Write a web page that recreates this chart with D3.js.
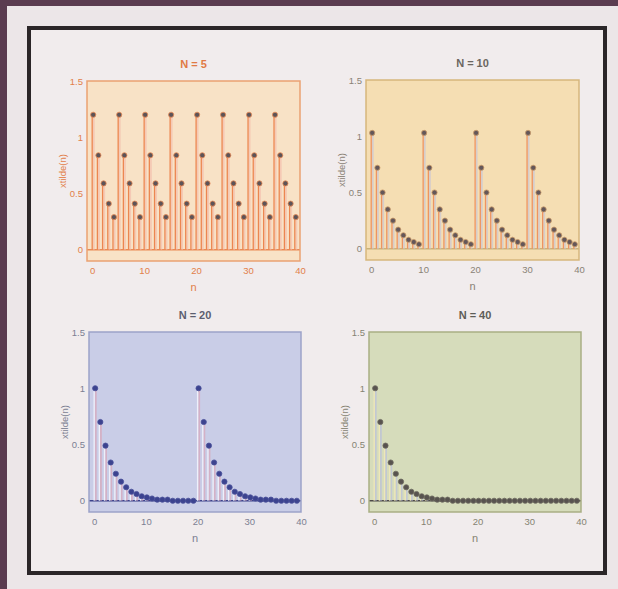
<!DOCTYPE html>
<html>
<head>
<meta charset="utf-8">
<script src="https://cdn.jsdelivr.net/npm/d3@7"></script>
<style>
  body { margin: 0; background: #5b3c50; }
  svg { display: block; }
  text { font-family: "Liberation Sans", Arial, sans-serif; }
</style>
</head>
<body>
<div id="graph"></div>
<script>

// valores, n = 0..39
var nValues = d3.range(0, 40);

var xN5 = [1.20, 0.84, 0.59, 0.41, 0.29, 1.20, 0.84, 0.59, 0.41, 0.29,
           1.20, 0.84, 0.59, 0.41, 0.29, 1.20, 0.84, 0.59, 0.41, 0.29,
           1.20, 0.84, 0.59, 0.41, 0.29, 1.20, 0.84, 0.59, 0.41, 0.29,
           1.20, 0.84, 0.59, 0.41, 0.29, 1.20, 0.84, 0.59, 0.41, 0.29];

var xN10 = [1.03, 0.72, 0.50, 0.35, 0.25, 0.17, 0.12, 0.08, 0.06, 0.04,
            1.03, 0.72, 0.50, 0.35, 0.25, 0.17, 0.12, 0.08, 0.06, 0.04,
            1.03, 0.72, 0.50, 0.35, 0.25, 0.17, 0.12, 0.08, 0.06, 0.04,
            1.03, 0.72, 0.50, 0.35, 0.25, 0.17, 0.12, 0.08, 0.06, 0.04];

var xN20 = [1.00, 0.70, 0.49, 0.34, 0.24, 0.17, 0.12, 0.08, 0.06, 0.04,
            0.03, 0.02, 0.01, 0.01, 0.01, 0.00, 0.00, 0.00, 0.00, 0.00,
            1.00, 0.70, 0.49, 0.34, 0.24, 0.17, 0.12, 0.08, 0.06, 0.04,
            0.03, 0.02, 0.01, 0.01, 0.01, 0.00, 0.00, 0.00, 0.00, 0.00];

var xN40 = [1.00, 0.70, 0.49, 0.34, 0.24, 0.17, 0.12, 0.08, 0.06, 0.04,
            0.03, 0.02, 0.01, 0.01, 0.01, 0.00, 0.00, 0.00, 0.00, 0.00,
            0.00, 0.00, 0.00, 0.00, 0.00, 0.00, 0.00, 0.00, 0.00, 0.00,
            0.00, 0.00, 0.00, 0.00, 0.00, 0.00, 0.00, 0.00, 0.00, 0.00];

var titles = ["N = 5", "N = 10", "N = 20", "N = 40"];
var xTicks = [0, 10, 20, 30, 40];
var yTicks = [0, 0.5, 1, 1.5];

var svgWidth = 618;
var svgHeight = 589;

var svg = d3.select("#graph")
  .append("svg")
  .attr("width", svgWidth)
  .attr("height", svgHeight);

// papel (la franja morada queda arriba y a la izquierda)
svg.append("rect")
  .attr("x", 7).attr("y", 6)
  .attr("width", svgWidth - 7).attr("height", svgHeight - 6)
  .attr("fill", "#ece6e8");

// marco negro
svg.append("rect")
  .attr("x", 29).attr("y", 28)
  .attr("width", 576).attr("height", 545)
  .attr("fill", "#f1eced")
  .attr("stroke", "#2b2628")
  .attr("stroke-width", 4);

// GRAFICA DE TALLOS (una por panel)
function panel(datos, titulo, box, estilo) {
  var x = d3.scaleLinear().domain([-1, 40]).range([box.left, box.right]);
  var y = d3.scaleLinear().domain([-0.1, 1.5]).range([box.bottom, box.top]);

  var g = svg.append("g");

  g.append("rect")
    .attr("x", box.left).attr("y", box.top)
    .attr("width", box.right - box.left)
    .attr("height", box.bottom - box.top)
    .attr("fill", estilo.fondo);

  // linea del cero
  g.append("line")
    .attr("x1", box.left).attr("x2", box.right)
    .attr("y1", y(0)).attr("y2", y(0))
    .attr("stroke", estilo.cero)
    .attr("stroke-width", 1.5);

  // tallos: sombra clara + linea
  g.selectAll(".sombra")
    .data(nValues)
    .enter()
    .append("line")
    .attr("x1", d => x(d) + 1.6).attr("x2", d => x(d) + 1.6)
    .attr("y1", y(0))
    .attr("y2", d => y(datos[d]))
    .attr("stroke", estilo.sombra)
    .attr("stroke-opacity", 0.7)
    .attr("stroke-width", 1.8);

  g.selectAll(".tallo")
    .data(nValues)
    .enter()
    .append("line")
    .attr("x1", d => x(d)).attr("x2", d => x(d))
    .attr("y1", y(0))
    .attr("y2", d => y(datos[d]))
    .attr("stroke", estilo.tallo)
    .attr("stroke-width", 1.3);

  g.selectAll(".marca")
    .data(nValues)
    .enter()
    .append("circle")
    .attr("cx", d => x(d) + 1)
    .attr("cy", d => y(datos[d]))
    .attr("r", 2.6)
    .attr("fill", estilo.marca)
    .attr("stroke", estilo.borde)
    .attr("stroke-width", 0.8);

  g.append("rect")
    .attr("x", box.left).attr("y", box.top)
    .attr("width", box.right - box.left)
    .attr("height", box.bottom - box.top)
    .attr("fill", "none")
    .attr("stroke", estilo.caja)
    .attr("stroke-width", 1.5);

  // ejes
  var ejeX = g.append("g")
    .attr("transform", `translate(0, ${box.bottom})`)
    .call(d3.axisBottom(x).tickValues(xTicks).tickSize(0).tickPadding(6));
  var ejeY = g.append("g")
    .attr("transform", `translate(${box.left}, 0)`)
    .call(d3.axisLeft(y).tickValues(yTicks).tickSize(0).tickPadding(4)
      .tickFormat(d3.format("")));

  [ejeX, ejeY].forEach(function (e) {
    e.select(".domain").remove();
    e.selectAll("text")
      .attr("fill", estilo.texto)
      .style("font-size", "9.5px");
  });

  g.append("text")
    .attr("x", (box.left + box.right) / 2)
    .attr("y", box.top - 13)
    .attr("text-anchor", "middle")
    .attr("fill", estilo.titulo)
    .style("font-size", "11px")
    .style("font-weight", "bold")
    .text(titulo);

  g.append("text")
    .attr("x", (box.left + box.right) / 2)
    .attr("y", box.bottom + 30)
    .attr("text-anchor", "middle")
    .attr("fill", estilo.texto)
    .style("font-size", "11px")
    .text("n");

  g.append("text")
    .attr("transform", `translate(${box.left - 21}, ${(box.top + box.bottom) / 2}) rotate(-90)`)
    .attr("text-anchor", "middle")
    .attr("fill", estilo.texto)
    .style("font-size", "9.5px")
    .text("xtilde(n)");
}

panel(xN5, titles[0], { left: 87, right: 300, top: 81, bottom: 261 }, {
  fondo: "#f8e2c6", cero: "#e98a55", sombra: "#f3bfae", tallo: "#ec8650",
  marca: "#5d5458", borde: "#e98a55", caja: "#eaa172", texto: "#e2804a", titulo: "#e07a44"
});

panel(xN10, titles[1], { left: 366, right: 579, top: 80, bottom: 260 }, {
  fondo: "#f5deb3", cero: "#c9b27a", sombra: "#c9c6d6", tallo: "#ee9460",
  marca: "#645759", borde: "#c99a6a", caja: "#d6b67c", texto: "#8a8276", titulo: "#6b6660"
});

panel(xN20, titles[2], { left: 89, right: 301, top: 332, bottom: 512 }, {
  fondo: "#c9cde7", cero: "#3c438c", sombra: "#d9a5b8", tallo: "#eef0fa",
  marca: "#3c438f", borde: "#4a519a", caja: "#9ca2c9", texto: "#7c7f92", titulo: "#5c5e70"
});

panel(xN40, titles[3], { left: 369, right: 581, top: 332, bottom: 512 }, {
  fondo: "#d6dcbb", cero: "#4d4a48", sombra: "#b9bfdc", tallo: "#efe7b8",
  marca: "#58534f", borde: "#6d6a60", caja: "#a9ae84", texto: "#858372", titulo: "#5e5d58"
});

</script>
</body>
</html>
